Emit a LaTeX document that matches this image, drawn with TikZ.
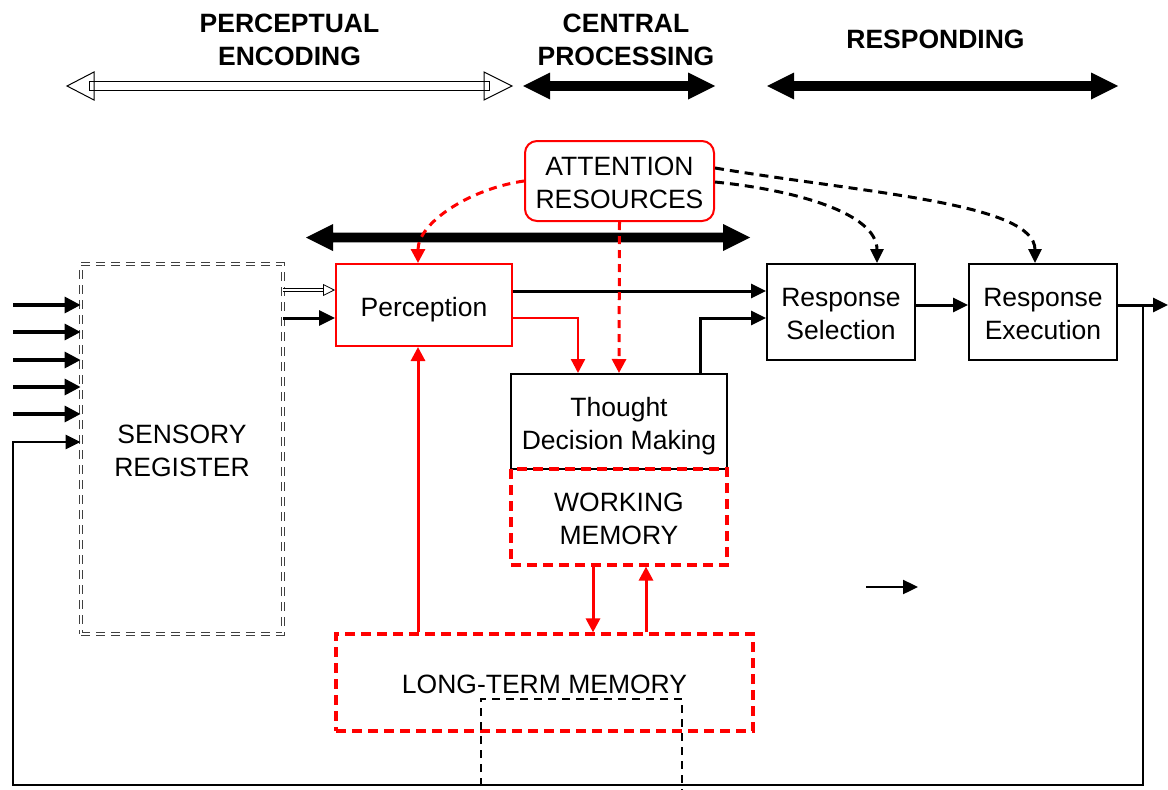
\documentclass[tikz,border=0pt]{standalone}
\usepackage{fontspec}
\setmainfont{Liberation Sans}
\usetikzlibrary{arrows.meta,calc}

% filled double-headed band arrow: #1 left tip x, #2 right tip x, #3 centre y
\newcommand\phasebar[3]{%
  \fill (#1,#3) -- (#1+27,#3-13.5) -- (#1+27,#3-4.8) -- (#2-27,#3-4.8)
    -- (#2-27,#3-13.5) -- (#2,#3) -- (#2-27,#3+13.5) -- (#2-27,#3+4.8)
    -- (#1+27,#3+4.8) -- (#1+27,#3+13.5) -- cycle;}

\begin{document}
\begin{tikzpicture}[x=1pt,y=-1pt,
  every node/.style={font=\fontsize{26.5}{33}\selectfont, align=center, inner sep=0pt,
    text height=22pt, text depth=0pt},
  two/.style={text height=55pt},
  head/.style={font=\fontsize{26.5}{33}\selectfont\bfseries},
  box/.style={draw=black, line width=2pt, fill=white},
  redbox/.style={draw=red, line width=2pt, fill=white},
  reddash/.style={draw=red, line width=3.2pt, dash pattern=on 10pt off 6pt},
  sensbox/.style={draw=black!75, line width=0.8pt, double=white, double distance=1.8pt,
    dash pattern=on 9pt off 6pt},
  conn/.style={line width=3pt, -{Triangle[length=15pt,width=14pt]}},
  redconn/.style={draw=red, line width=3pt, -{Triangle[length=14pt,width=14pt]}},
  reddashconn/.style={draw=red, line width=3pt, dash pattern=on 8pt off 6pt,
    -{Triangle[length=14pt,width=14pt]}},
  blackdashconn/.style={line width=3pt, dash pattern=on 9pt off 6pt,
    -{Triangle[length=14pt,width=13pt]}},
]
\useasboundingbox (0,0) rectangle (1168,790);

% stage headings
\node[head, two] (h1) at (289.5,38) {PERCEPTUAL\\ENCODING};
\node[head, two] (h2) at (626,38) {CENTRAL\\PROCESSING};
\node[head] (h3) at (935.5,37.5) {RESPONDING};

% stage span arrows
\draw[line width=1pt] (89,81) rectangle (489,90);
\draw[line width=1pt, line join=miter] (94,72) -- (67,86) -- (94,100) -- cycle;
\draw[line width=1pt, line join=miter] (484,72) -- (512,86) -- (484,100) -- cycle;
\phasebar{523}{715}{86}
\phasebar{767}{1118}{86}
\phasebar{306}{750}{237.5}

% blocks
\node[redbox, two, rounded corners=12pt, minimum width=189pt, minimum height=80pt] (att) at (619.5,181) {ATTENTION\\RESOURCES};
\node[sensbox, two, minimum width=202pt, minimum height=370pt] (sr) at (182,449) {SENSORY\\REGISTER};
\node[redbox, minimum width=176pt, minimum height=82pt] (perc) at (424,305) {Perception};
\node[box, two, minimum width=148pt, minimum height=96pt] (rs) at (841,312) {Response\\Selection};
\node[box, two, minimum width=148pt, minimum height=96pt] (re) at (1043,312) {Response\\Execution};
\node[box, two, minimum width=216pt, minimum height=95pt] (th) at (619,421.5) {Thought\\Decision Making};
\node[reddash, two, minimum width=216pt, minimum height=96pt] (wm) at (619,517) {WORKING\\MEMORY};
\node[reddash, minimum width=417pt, minimum height=97pt] (ltm) at (544.5,682.5) {LONG-TERM MEMORY};

% dashed outline below long-term memory
\draw[line width=2.4pt, dash pattern=on 8pt off 6pt] (481,800) -- (481,699) -- (682,699) -- (682,800);

% sensory inputs
\foreach \y in {305,332,360,387,414} {
  \coordinate (in\y) at (13,\y);
  \draw[line width=3.2pt, -{Triangle[length=16pt,width=16pt]}] (in\y) -- (in\y -| sr.west);
}

% sensory register to perception
\coordinate (pa) at ([yshift=15pt]perc.west);
\coordinate (pb) at ([yshift=-13pt]perc.west);
\draw[line width=0.7pt, double=white, double distance=2.4pt] (pa -| sr.east) -- ([xshift=-11pt]pa);
\draw[line width=0.8pt, -{Triangle[open,length=12pt,width=12pt]}] ([xshift=-12pt]pa) -- (pa);
\draw[conn, -{Triangle[length=16pt,width=15pt]}] (pb -| sr.east) -- (pb);

% perception outputs
\coordinate (po1) at ([yshift=14pt]perc.east);
\draw[conn] (po1) -- (po1 -| rs.west);
\draw[redconn, line width=2.3pt] ([yshift=-13pt]perc.east) -| ([xshift=-41pt]th.north);

% attention
\draw[reddashconn] (att.south) -- (th.north);
\draw[reddashconn] (att.west) .. controls +(-55,8) and +(0,-40) .. ([xshift=-6pt]perc.north);
\draw[blackdashconn] ([yshift=-1pt]att.east) .. controls +(80,8) and +(0,-50) .. ([xshift=36pt]rs.north);
\draw[blackdashconn] ([yshift=13pt]att.east) .. controls +(150,25) and +(0,-60) .. ([xshift=-8pt]re.north);

% thought to response selection
\draw[conn] ([xshift=81pt]th.north) |- ([yshift=-6pt]rs.west);

% response chain and feedback loop
\draw[conn] ([yshift=7pt]rs.east) -- ([yshift=7pt]re.west);
\coordinate (out) at (1168,305);
\coordinate (br) at (1143,785);
\coordinate (bl) at (13,785);
\draw[conn] ([yshift=7pt]re.east) -- (out);
\draw[conn, line width=2.4pt] (br |- out) -- (br) -- (bl) |- ([yshift=7pt]sr.west);

% memory links
\coordinate (p1) at ([xshift=-6pt]perc.south);
\draw[redconn] (p1 |- ltm.north) -- (p1);
\coordinate (w1) at ([xshift=-26pt]wm.south);
\coordinate (w2) at ([xshift=27pt]wm.south);
\draw[redconn] (w1) -- (w1 |- ltm.north);
\draw[redconn] (w2 |- ltm.north) -- (w2);

% lone arrow
\coordinate (s1) at (866,587);
\coordinate (s2) at (918,587);
\draw[conn, line width=2.4pt] (s1) -- (s2);

\end{tikzpicture}
\end{document}
